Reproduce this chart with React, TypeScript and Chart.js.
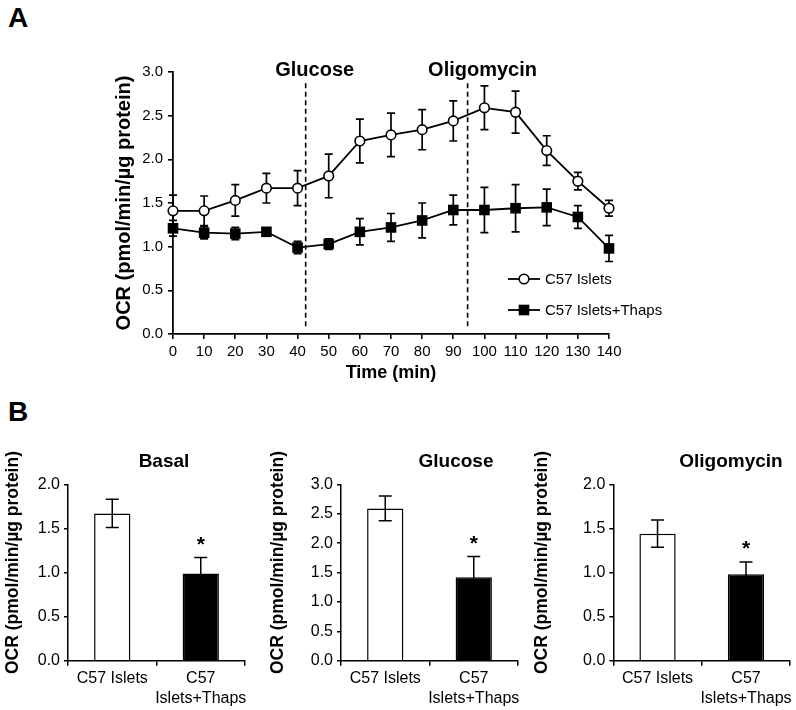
import React, { useEffect, useRef } from "react";
import { Chart, registerables } from "chart.js";

Chart.register(...registerables);

const FONT = '"Liberation Sans", Arial, Helvetica, sans-serif';
Chart.defaults.font.family = FONT;
Chart.defaults.color = "#000";

// ---------- Panel A data ----------
const times = [0, 10, 20, 30, 40, 50, 60, 70, 80, 90, 100, 110, 120, 130, 140];
const c57Islets = [1.41, 1.41, 1.53, 1.67, 1.67, 1.81, 2.21, 2.28, 2.34, 2.44, 2.59, 2.54, 2.10, 1.75, 1.44];
const c57IsletsErr = [0.18, 0.17, 0.18, 0.17, 0.2, 0.25, 0.25, 0.25, 0.23, 0.23, 0.25, 0.24, 0.17, 0.1, 0.09];
const c57Thaps = [1.21, 1.16, 1.15, 1.17, 0.99, 1.03, 1.17, 1.22, 1.3, 1.42, 1.42, 1.44, 1.45, 1.34, 0.98];
const c57ThapsErr = [0.09, 0.07, 0.07, 0.03, 0.07, 0.06, 0.15, 0.16, 0.2, 0.17, 0.26, 0.27, 0.21, 0.13, 0.15];
const seriesNames = ["C57 Islets", "C57 Islets+Thaps"];
const yTicksA = [0, 0.5, 1, 1.5, 2, 2.5, 3];
const eventNames = ["Glucose", "Oligomycin"];
const eventTimes = [42.6, 94.6];
const eventLabelTimes = [45.5, 99.4];
const eventLineRange = [0.09, 2.87];

// ---------- Panel B data ----------
const barCategories = [["C57 Islets"], ["C57", "Islets+Thaps"]];
const barTitles = ["Basal", "Glucose", "Oligomycin"];
const basalValues = [1.67, 0.99];
const basalErr = [0.16, 0.18];
const glucoseValues = [2.59, 1.42];
const glucoseErr = [0.21, 0.35];
const oligomycinValues = [1.44, 0.98];
const oligomycinErr = [0.155, 0.14];
const barAxisMax = [2, 3, 2];
const barStars = [false, true];
const yTitle = "OCR (pmol/min/µg protein)";

const fmt1 = (v: any) => Number(v).toFixed(1);

function drawErrorBars(chart: any, opts: any) {
  const ctx = chart.ctx;
  const yScale = chart.scales.y;
  ctx.save();
  ctx.strokeStyle = "#000";
  ctx.lineWidth = opts.lineWidth || 1.6;
  chart.data.datasets.forEach((ds: any, di: number) => {
    const meta = chart.getDatasetMeta(di);
    if (!ds.errors) return;
    meta.data.forEach((el: any, i: number) => {
      const raw = ds.data[i];
      const v = typeof raw === "number" ? raw : raw.y;
      const e = ds.errors[i];
      const x = el.x;
      const yT = yScale.getPixelForValue(v + e);
      const yB = yScale.getPixelForValue(v - e);
      const hw = (opts.cap || 8) / 2;
      ctx.beginPath();
      ctx.moveTo(x, yT);
      ctx.lineTo(x, yB);
      ctx.moveTo(x - hw, yT);
      ctx.lineTo(x + hw, yT);
      ctx.moveTo(x - hw, yB);
      ctx.lineTo(x + hw, yB);
      ctx.stroke();
    });
  });
  ctx.restore();
}

const errorBarPlugin = {
  id: "errorBars",
  beforeDatasetsDraw(chart: any, _a: any, opts: any) {
    if (opts && opts.phase === "before") drawErrorBars(chart, opts);
  },
  afterDatasetsDraw(chart: any, _a: any, opts: any) {
    if (opts && opts.phase === "after") drawErrorBars(chart, opts);
  },
};

const eventPlugin = {
  id: "events",
  beforeDatasetsDraw(chart: any) {
    const { ctx } = chart;
    const xs = chart.scales.x;
    const ys = chart.scales.y;
    ctx.save();
    ctx.strokeStyle = "#000";
    ctx.lineWidth = 1.6;
    ctx.setLineDash([5, 3.5]);
    eventTimes.forEach((t) => {
      const x = xs.getPixelForValue(t);
      ctx.beginPath();
      ctx.moveTo(x, ys.getPixelForValue(eventLineRange[1]));
      ctx.lineTo(x, ys.getPixelForValue(eventLineRange[0]));
      ctx.stroke();
    });
    ctx.restore();
  },
  afterDraw(chart: any) {
    const { ctx } = chart;
    const xs = chart.scales.x;
    const ys = chart.scales.y;
    ctx.save();
    ctx.fillStyle = "#000";
    ctx.font = `bold 20px ${FONT}`;
    ctx.textAlign = "center";
    ctx.textBaseline = "middle";
    eventNames.forEach((n, i) => {
      ctx.fillText(n, xs.getPixelForValue(eventLabelTimes[i]), ys.getPixelForValue(3.02));
    });
    ctx.restore();
  },
};

const legendPlugin = {
  id: "insideLegend",
  afterDraw(chart: any) {
    const { ctx, chartArea } = chart;
    ctx.save();
    chart.data.datasets.forEach((ds: any, i: number) => {
      const x0 = chartArea.left + 335;
      const y = chartArea.top + 207 + i * 31;
      ctx.strokeStyle = "#000";
      ctx.lineWidth = 1.8;
      ctx.beginPath();
      ctx.moveTo(x0, y);
      ctx.lineTo(x0 + 32, y);
      ctx.stroke();
      const cx = x0 + 16;
      if (ds.pointStyle === "rect") {
        const s = ds.pointRadius * Math.SQRT1_2;
        ctx.fillStyle = "#000";
        ctx.fillRect(cx - s, y - s, 2 * s, 2 * s);
      } else {
        ctx.beginPath();
        ctx.arc(cx, y, ds.pointRadius, 0, Math.PI * 2);
        ctx.fillStyle = "#fff";
        ctx.fill();
        ctx.lineWidth = ds.pointBorderWidth;
        ctx.stroke();
      }
      ctx.fillStyle = "#000";
      ctx.font = `15px ${FONT}`;
      ctx.textAlign = "left";
      ctx.textBaseline = "middle";
      ctx.fillText(ds.label, x0 + 37, y + 1);
    });
    ctx.restore();
  },
};

function makeLineChart(canvas: HTMLCanvasElement) {
  return new Chart(canvas, {
    type: "line",
    data: {
      datasets: [
        {
          label: seriesNames[0],
          data: times.map((t, i) => ({ x: t, y: c57Islets[i] })),
          errors: c57IsletsErr,
          borderColor: "#000",
          borderWidth: 1.8,
          pointStyle: "circle",
          pointRadius: 4.8,
          pointBackgroundColor: "#fff",
          pointBorderColor: "#000",
          pointBorderWidth: 1.6,
          tension: 0,
          clip: false,
        } as any,
        {
          label: seriesNames[1],
          data: times.map((t, i) => ({ x: t, y: c57Thaps[i] })),
          errors: c57ThapsErr,
          borderColor: "#000",
          borderWidth: 1.8,
          pointStyle: "rect",
          pointRadius: 7.5,
          pointBackgroundColor: "#000",
          pointBorderColor: "#000",
          pointBorderWidth: 0,
          tension: 0,
          clip: false,
        } as any,
      ],
    },
    options: {
      responsive: false,
      animation: false,
      devicePixelRatio: 1,
      layout: { padding: { left: 112, top: 72, right: 187, bottom: 16 } },
      plugins: {
        legend: { display: false },
        tooltip: { enabled: false },
        errorBars: { phase: "before", cap: 8, lineWidth: 1.7 },
      } as any,
      scales: {
        x: {
          type: "linear",
          min: 0,
          max: 140,
          ticks: { stepSize: 10, font: { size: 15 }, color: "#000", padding: 4, maxRotation: 0, autoSkip: false },
          grid: { drawOnChartArea: false, color: "#000", lineWidth: 1.6, tickLength: 5 },
          border: { color: "#000", width: 1.8 },
          title: { display: true, text: "Time (min)", font: { size: 18, weight: "bold" }, color: "#000", padding: 0 },
          afterFit: (s: any) => {
            s.height = 50;
          },
        },
        y: {
          min: 0,
          max: 3,
          afterBuildTicks: (s: any) => {
            s.ticks = yTicksA.map((v) => ({ value: v }));
          },
          ticks: { callback: fmt1, font: { size: 15 }, color: "#000", padding: 5 },
          grid: { drawOnChartArea: false, color: "#000", lineWidth: 1.6, tickLength: 5 },
          border: { color: "#000", width: 1.8 },
          title: {
            display: true,
            text: yTitle,
            font: { size: 20, weight: "bold", lineHeight: 1.2 },
            color: "#000",
            padding: 0,
          },
          afterFit: (s: any) => {
            s.width = 61;
          },
        },
      },
    } as any,
    plugins: [errorBarPlugin, eventPlugin, legendPlugin],
  });
}

function makeBarChart(
  canvas: HTMLCanvasElement,
  idx: number,
  values: number[],
  errs: number[],
  layout: { padL: number; axisW: number; padR: number; titleX: number; yTitleX: number }
) {
  const titleStarPlugin = {
    id: "titleStar",
    afterDraw(chart: any) {
      const { ctx, chartArea } = chart;
      ctx.save();
      ctx.fillStyle = "#000";
      ctx.font = `bold 19px ${FONT}`;
      ctx.textAlign = "center";
      ctx.textBaseline = "middle";
      ctx.fillText(barTitles[idx], layout.titleX, 22);
      // rotated y-axis title
      ctx.save();
      ctx.translate(layout.yTitleX, (chartArea.top + chartArea.bottom) / 2 - 10);
      ctx.rotate(-Math.PI / 2);
      ctx.font = `bold 17.5px ${FONT}`;
      ctx.fillText(yTitle, 0, 0);
      ctx.restore();
      const meta = chart.getDatasetMeta(0);
      const ys = chart.scales.y;
      ctx.font = `bold 21px ${FONT}`;
      ctx.textBaseline = "alphabetic";
      barStars.forEach((st, i) => {
        if (!st) return;
        const el = meta.data[i];
        const top = ys.getPixelForValue(values[i] + errs[i]);
        ctx.fillText("*", el.x, top - 7);
      });
      ctx.restore();
    },
  };
  return new Chart(canvas, {
    type: "bar",
    data: {
      labels: barCategories,
      datasets: [
        {
          data: values,
          errors: errs,
          backgroundColor: ["#fff", "#000"],
          borderColor: "#000",
          borderWidth: 1.5,
          barPercentage: 0.41,
          categoryPercentage: 1,
        } as any,
      ],
    },
    options: {
      responsive: false,
      animation: false,
      devicePixelRatio: 1,
      layout: { padding: { left: layout.padL, top: 44.3, right: layout.padR, bottom: 0 } },
      plugins: {
        legend: { display: false },
        tooltip: { enabled: false },
        errorBars: { phase: "after", cap: 13, lineWidth: 1.5 },
      } as any,
      scales: {
        x: {
          type: "category",
          offset: true,
          ticks: { font: { size: 16, lineHeight: 1.25 }, color: "#000", padding: 3, maxRotation: 0, autoSkip: false },
          grid: { drawOnChartArea: false, offset: true, color: "#000", lineWidth: 1.5, tickLength: 5 },
          border: { color: "#000", width: 1.5 },
          afterFit: (s: any) => {
            s.height = 49.3;
          },
        },
        y: {
          min: 0,
          max: barAxisMax[idx],
          ticks: { stepSize: 0.5, callback: fmt1, font: { size: 16 }, color: "#000", padding: 4 },
          grid: { drawOnChartArea: false, color: "#000", lineWidth: 1.5, tickLength: 4 },
          border: { color: "#000", width: 1.5 },
          title: { display: false },
          afterFit: (s: any) => {
            s.width = layout.axisW;
          },
        },
      },
    } as any,
    plugins: [errorBarPlugin, titleStarPlugin],
  });
}

function ChartCanvas(props: { left: number; top: number; width: number; height: number; make: (c: HTMLCanvasElement) => Chart }) {
  const ref = useRef<HTMLCanvasElement>(null);
  const { left, top, width, height, make } = props;
  useEffect(() => {
    const chart = make(ref.current as HTMLCanvasElement);
    return () => chart.destroy();
  }, []);
  return (
    <canvas
      ref={ref}
      width={width}
      height={height}
      style={{ position: "absolute", left, top, width, height, display: "block" }}
    />
  );
}

const panelLetter: React.CSSProperties = {
  position: "absolute",
  left: 8,
  fontFamily: FONT,
  fontWeight: "bold",
  fontSize: 28,
  lineHeight: "28px",
  color: "#000",
};

export default function App() {
  return (
    <div style={{ position: "absolute", left: 0, top: 0, width: 796, height: 710, background: "#fff", overflow: "hidden" }}>
      <div style={{ ...panelLetter, top: 4 }}>A</div>
      <div style={{ ...panelLetter, top: 398 }}>B</div>
      <ChartCanvas left={0} top={0} width={796} height={400} make={makeLineChart} />
      <ChartCanvas
        left={0}
        top={440}
        width={265}
        height={270}
        make={(c) => makeBarChart(c, 0, basalValues, basalErr, { padL: 2.2, axisW: 65.8, padR: 20, titleX: 164, yTitleX: 13 })}
      />
      <ChartCanvas
        left={265}
        top={440}
        width={265}
        height={270}
        make={(c) => makeBarChart(c, 1, glucoseValues, glucoseErr, { padL: 2.2, axisW: 73.8, padR: 12, titleX: 191, yTitleX: 13 })}
      />
      <ChartCanvas
        left={530}
        top={440}
        width={266}
        height={270}
        make={(c) => makeBarChart(c, 2, oligomycinValues, oligomycinErr, { padL: 1.2, axisW: 82.1, padR: 5.7, titleX: 201, yTitleX: 12 })}
      />
    </div>
  );
}
